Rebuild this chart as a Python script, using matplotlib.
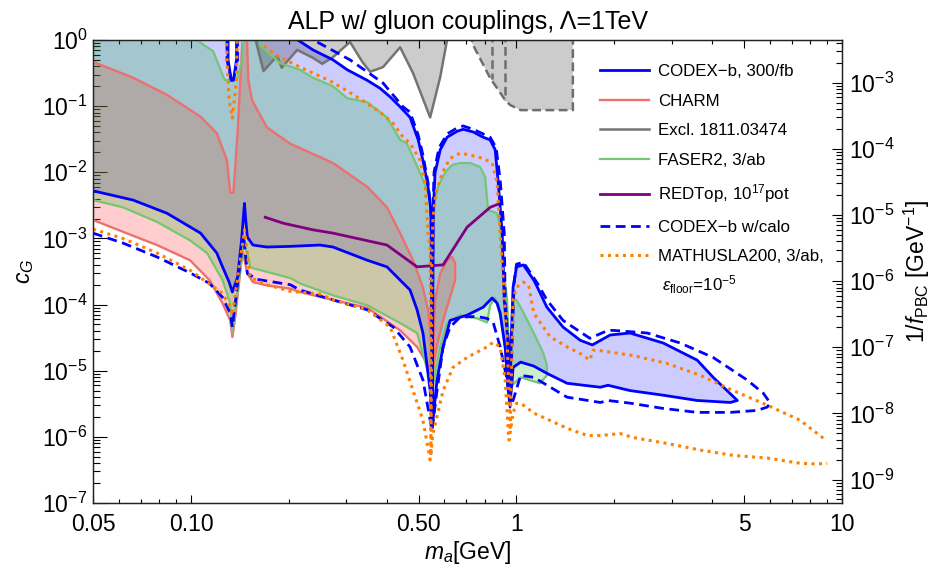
import numpy as np
import matplotlib
matplotlib.use('Agg')
import matplotlib.pyplot as plt
from matplotlib.ticker import FixedLocator, FixedFormatter, LogLocator, NullFormatter, LogFormatterSciNotation

plt.rcParams['font.family'] = ['Liberation Sans', 'DejaVu Sans']
plt.rcParams['mathtext.fontset'] = 'custom'
plt.rcParams['mathtext.rm'] = 'Liberation Sans'
plt.rcParams['mathtext.it'] = 'Liberation Sans:italic'
plt.rcParams['mathtext.bf'] = 'Liberation Sans:bold'

# masses in GeV, couplings given as log10(c_G)
# CODEX-b 300/fb : lower edge left->right, then upper edge right->left
codex_lo_m = [0.05, 0.0664, 0.0844, 0.107, 0.120, 0.125, 0.131, 0.134, 0.139, 0.143, 0.146, 0.147, 0.149, 0.155,
              0.171, 0.202, 0.249, 0.273, 0.348, 0.400, 0.439, 0.471, 0.495, 0.516, 0.543, 0.550, 0.554, 0.570,
              0.595, 0.625, 0.705, 0.790, 0.842, 0.872, 0.891, 0.923, 0.943, 0.956, 0.970, 0.976, 1.03, 1.13,
              1.24, 1.43, 1.81, 1.91, 2.23, 2.82, 3.59, 4.54, 4.77]
codex_lo_L = [-2.28, -2.42, -2.62, -2.92, -3.22, -3.43, -3.66, -3.81, -3.59, -3.03, -2.47, -2.68, -2.98, -3.10,
              -3.13, -3.12, -3.10, -3.13, -3.33, -3.43, -3.63, -3.78, -4.08, -4.43, -5.30, -5.85, -5.75, -5.14,
              -4.64, -4.24, -4.16, -4.04, -3.90, -3.98, -4.13, -4.64, -5.30, -5.49, -5.14, -4.95, -4.87, -4.93,
              -5.04, -5.19, -5.25, -5.22, -5.30, -5.37, -5.45, -5.48, -5.45]
codex_up_m = [4.02, 3.59, 2.82, 2.23, 1.94, 1.71, 1.57, 1.39, 1.24, 1.16, 1.13, 1.05, 1.00, 0.976, 0.963, 0.956,
              0.943, 0.917, 0.904, 0.879, 0.860, 0.830, 0.790, 0.736, 0.686, 0.657, 0.612, 0.583, 0.562, 0.555,
              0.551, 0.548, 0.545, 0.535, 0.516, 0.499, 0.471, 0.439, 0.409, 0.381, 0.348, 0.302, 0.273, 0.237,
              0.213, 0.213, 0.138, 0.138, 0.135, 0.133, 0.130, 0.130, 0.05]
codex_up_L = [-5.10, -4.84, -4.58, -4.43, -4.46, -4.61, -4.54, -4.34, -4.04, -3.74, -3.63, -3.40, -3.43, -3.74,
              -4.54, -5.40, -4.61, -3.93, -2.92, -2.16, -1.66, -1.51, -1.47, -1.39, -1.35, -1.38, -1.47, -1.66,
              -2.01, -2.60, -5.55, -2.90, -2.55, -2.22, -1.82, -1.51, -1.17, -1.01, -0.86, -0.73, -0.61, -0.45,
              -0.30, -0.15, 0.0, 0.5, 0.5, -0.30, -0.61, -0.61, -0.30, 0.5, 0.5]

# CODEX-b with calorimeter
calo_lo_m = [0.05, 0.0618, 0.0786, 0.0993, 0.114, 0.125, 0.132, 0.134, 0.145, 0.149, 0.160, 0.202, 0.216, 0.273,
             0.348, 0.418, 0.471, 0.516, 0.550, 0.570, 0.595, 0.625, 0.671, 0.757, 0.812, 0.848, 0.891, 0.936,
             0.956, 0.976, 1.03, 1.13, 1.43, 1.81, 1.91, 2.23, 2.82, 3.59, 4.54, 5.49, 5.89, 6.02]
calo_lo_L = [-2.92, -3.07, -3.28, -3.52, -3.68, -3.89, -4.13, -4.34, -2.95, -3.53, -3.62, -3.70, -3.78, -3.93,
             -4.08, -4.34, -4.64, -5.14, -5.90, -5.30, -4.64, -4.34, -4.19, -4.18, -4.21, -4.27, -4.64, -5.14,
             -5.55, -5.45, -5.07, -5.10, -5.40, -5.48, -5.45, -5.49, -5.57, -5.63, -5.63, -5.60, -5.55, -5.49]
calo_up_m = [5.73, 5.11, 4.02, 3.18, 2.52, 1.98, 1.91, 1.68, 1.39, 1.24, 1.16, 1.10, 1.05, 1.00, 0.983, 0.970,
             0.956, 0.943, 0.923, 0.917, 0.891, 0.866, 0.830, 0.790, 0.736, 0.686, 0.657, 0.612, 0.578, 0.558,
             0.554, 0.551, 0.546, 0.535, 0.516, 0.499, 0.471, 0.448, 0.389, 0.308, 0.244, 0.237, 0.237, 0.139,
             0.139, 0.135, 0.133, 0.129, 0.129]
calo_up_L = [-5.34, -5.14, -4.80, -4.58, -4.43, -4.39, -4.39, -4.51, -4.24, -3.93, -3.68, -3.51, -3.36, -3.39,
             -3.68, -4.54, -5.45, -4.54, -3.93, -2.92, -2.12, -1.63, -1.47, -1.42, -1.35, -1.30, -1.33, -1.42,
             -1.63, -2.00, -2.57, -5.75, -2.57, -2.16, -1.74, -1.44, -1.09, -1.01, -0.65, -0.30, -0.03, 0.0,
             0.5, 0.5, -0.30, -0.61, -0.61, -0.30, 0.5]

# MATHUSLA200 (two open branches)
math_lo_m = [0.05, 0.0618, 0.0786, 0.0993, 0.125, 0.131, 0.134, 0.136, 0.146, 0.152, 0.171, 0.202, 0.249, 0.273,
             0.348, 0.409, 0.448, 0.481, 0.516, 0.543, 0.554, 0.595, 0.638, 0.705, 0.812, 0.848, 0.891, 0.923,
             0.943, 0.949, 0.976, 1.00, 1.05, 1.13, 1.43, 1.65, 1.81, 2.08, 2.28, 2.90, 3.67, 4.63, 5.89, 7.44,
             8.39, 9.01]
math_lo_L = [-2.86, -3.00, -3.22, -3.48, -3.83, -4.01, -4.16, -3.93, -2.87, -3.59, -3.70, -3.80, -3.84, -3.93,
             -4.08, -4.34, -4.84, -5.30, -5.75, -6.35, -5.95, -5.30, -4.95, -4.80, -4.64, -4.57, -4.64, -5.14,
             -5.90, -6.05, -5.64, -5.49, -5.52, -5.64, -5.87, -5.98, -5.98, -5.95, -6.01, -6.10, -6.20, -6.28,
             -6.32, -6.40, -6.41, -6.40]
math_up_m = [8.76, 7.44, 5.89, 4.63, 3.67, 2.90, 2.28, 1.77, 1.72, 1.68, 1.57, 1.43, 1.27, 1.13, 1.09, 1.05, 1.00,
             0.976, 0.970, 0.956, 0.936, 0.891, 0.872, 0.842, 0.790, 0.721, 0.671, 0.625, 0.591, 0.566, 0.554,
             0.550, 0.546, 0.543, 0.535, 0.524, 0.506, 0.471, 0.448, 0.418, 0.381, 0.338, 0.302, 0.268, 0.237,
             0.212, 0.184, 0.167, 0.161, 0.139, 0.138, 0.134, 0.131, 0.129, 0.128]
math_up_L = [-6.02, -5.75, -5.52, -5.30, -5.07, -4.89, -4.77, -4.69, -4.69, -4.84, -4.74, -4.64, -4.49, -4.13,
             -3.71, -3.66, -3.74, -3.93, -4.54, -5.90, -4.54, -2.92, -2.16, -1.86, -1.79, -1.74, -1.71, -1.79,
             -2.01, -2.31, -2.68, -3.18, -6.28, -3.18, -2.92, -2.16, -1.82, -1.56, -1.47, -1.26, -1.09, -0.92,
             -0.77, -0.62, -0.50, -0.39, -0.24, -0.08, 0.5, 0.5, -0.61, -1.18, -0.91, -0.30, 0.5]

# FASER2 3/ab
faser_lo_m = [0.05, 0.0618, 0.0786, 0.0993, 0.112, 0.125, 0.132, 0.134, 0.145, 0.149, 0.152, 0.155, 0.202, 0.216,
              0.273, 0.348, 0.439, 0.495, 0.543, 0.550, 0.583, 0.612, 0.671, 0.757, 0.812, 0.830, 0.860, 0.891,
              0.923, 0.943, 0.956, 0.970, 1.03, 1.18, 1.24]
faser_lo_L = [-2.42, -2.53, -2.75, -3.03, -3.22, -3.63, -3.98, -4.43, -3.10, -3.22, -3.43, -3.45, -3.60, -3.68,
              -3.86, -4.01, -4.28, -4.43, -5.14, -5.30, -4.64, -4.28, -4.16, -4.21, -4.27, -4.01, -3.90, -4.16,
              -4.69, -5.30, -5.42, -5.22, -5.10, -5.19, -5.07]
faser_up_m = [1.24, 1.21, 1.13, 1.03, 1.00, 0.983, 0.956, 0.936, 0.910, 0.891, 0.872, 0.818, 0.801, 0.773, 0.721,
              0.671, 0.634, 0.604, 0.574, 0.562, 0.554, 0.550, 0.546, 0.543, 0.531, 0.506, 0.481, 0.460, 0.439,
              0.400, 0.348, 0.302, 0.273, 0.237, 0.216, 0.188, 0.163, 0.161, 0.145, 0.144, 0.139, 0.127, 0.117,
              0.104, 0.104, 0.05]
faser_up_L = [-4.92, -4.74, -4.43, -4.04, -3.93, -3.93, -5.28, -3.93, -3.43, -2.83, -2.62, -2.57, -2.07, -1.92,
              -1.86, -1.86, -1.89, -2.00, -2.22, -2.42, -2.83, -5.22, -2.83, -2.42, -2.27, -2.01, -1.77, -1.56,
              -1.51, -1.17, -0.94, -0.88, -0.70, -0.57, -0.45, -0.35, -0.08, 0.5, 0.5, -0.27, -0.57, -0.61,
              -0.17, 0.0, 0.5, 0.5]

# CHARM
charm_lo_m = [0.05, 0.0618, 0.0786, 0.0993, 0.114, 0.125, 0.132, 0.134, 0.137, 0.144, 0.149, 0.155, 0.171, 0.202,
              0.216, 0.273, 0.348, 0.439, 0.495, 0.535, 0.550]
charm_lo_L = [-2.72, -2.90, -3.10, -3.33, -3.63, -3.98, -4.24, -4.49, -4.16, -3.18, -3.53, -3.66, -3.71, -3.76,
              -3.81, -3.93, -4.05, -4.39, -4.64, -4.92, -4.96]
charm_up_m = [0.546, 0.535, 0.516, 0.481, 0.439, 0.400, 0.348, 0.273, 0.249, 0.202, 0.171, 0.154, 0.150, 0.148,
              0.145, 0.139, 0.135, 0.132, 0.129, 0.120, 0.107, 0.0844, 0.0664, 0.05]
charm_up_L = [-4.54, -4.08, -3.74, -3.33, -2.92, -2.53, -2.22, -1.86, -1.77, -1.57, -1.32, -0.91, -0.61, 0.3,
              0.3, -1.41, -2.31, -2.31, -1.82, -1.41, -1.16, -0.83, -0.57, -0.33]
charm_lobe_m = [0.554, 0.562, 0.583, 0.612, 0.634, 0.648, 0.648, 0.595, 0.570, 0.554]
charm_lobe_L = [-4.96, -3.93, -3.53, -3.33, -3.28, -3.37, -3.63, -4.24, -4.61, -4.96]

# Excluded, arXiv:1811.03474 (solid) and the dashed regions
excl_m = [0.158, 0.167, 0.184, 0.190, 0.212, 0.237, 0.253, 0.273, 0.308, 0.336, 0.355, 0.389, 0.439, 0.481,
          0.543, 0.583, 0.612]
excl_L = [0.0, -0.47, -0.24, -0.42, -0.15, -0.27, -0.36, -0.26, -0.03, -0.33, -0.48, -0.41, -0.11, -0.50,
          -1.17, -0.56, 0.0]
excl2_m = [0.730, 0.730, 0.830, 0.923, 0.956, 1.03, 1.49, 1.49]
excl2_L = [0.3, -0.045, -0.575, -0.908, -0.983, -1.06, -1.06, 0.3]
excl2_inner_m = [0.842, 0.923]
excl2_inner_L = [-0.59, -0.91]

# REDTop 10^17 pot
red_m = [0.169, 0.192, 0.237, 0.273, 0.400, 0.495, 0.595, 0.705, 0.830, 0.891]
red_L = [-2.68, -2.77, -2.87, -2.92, -3.10, -3.43, -3.40, -2.83, -2.53, -2.47]

x_major = [0.05, 0.1, 0.5, 1, 5, 10]
x_labels = ['0.05', '0.10', '0.50', '1', '5', '10']
x_minor = [0.06, 0.07, 0.08, 0.09, 0.2, 0.3, 0.4, 0.6, 0.7, 0.8, 0.9, 2, 3, 4, 6, 7, 8, 9]

CEIL = 0.3           # log10 c_G above the frame, closes regions running off the top
K_PBC = 10 ** -2.355  # c_G -> 1/f_PBC [GeV^-1]
DOT = (0, (1.0, 1.45))
DASH = (0, (3.5, 2.0))


def cg(L):
    return 10.0 ** np.asarray(L, dtype=float)


fig = plt.figure(figsize=(9.38, 5.75), dpi=100)
ax = fig.add_axes([93 / 938, 72 / 575, 749 / 938, 463 / 575])
ax.set_xscale('log')
ax.set_yscale('log')

# filled regions
ax.fill(codex_lo_m + codex_up_m, cg(codex_lo_L + codex_up_L), color=(0, 0, 1), alpha=0.2, lw=0, zorder=1)
ax.fill(charm_lo_m + charm_up_m, cg(charm_lo_L + charm_up_L), color=(1, 0.3, 0.3), alpha=0.28, lw=0, zorder=2)
ax.fill(charm_lobe_m, cg(charm_lobe_L), color=(1, 0.3, 0.3), alpha=0.28, lw=0, zorder=2)
ax.fill(faser_lo_m + faser_up_m, cg(faser_lo_L + faser_up_L), color=(0.09, 0.71, 0.14), alpha=0.22, lw=0, zorder=3)
ax.fill([excl_m[0]] + excl_m + [excl_m[-1]], cg([CEIL] + excl_L + [CEIL]), color='k', alpha=0.2, lw=0, zorder=4)
ax.fill(excl2_m, cg(excl2_L), color='k', alpha=0.2, lw=0, zorder=4)

# outlines, in legend order
ax.plot(codex_lo_m + codex_up_m, cg(codex_lo_L + codex_up_L), color='#0000ff', lw=2.0, zorder=8,
        label='CODEX\u2212b, 300/fb')
ax.plot(charm_lo_m + charm_up_m, cg(charm_lo_L + charm_up_L), color='#ec7070', lw=1.7, zorder=6, label='CHARM')
ax.plot([excl_m[0]] + excl_m + [excl_m[-1]], cg([CEIL] + excl_L + [CEIL]), color='#747474', lw=1.8, zorder=6,
        label='Excl. 1811.03474')
ax.plot(faser_lo_m + faser_up_m, cg(faser_lo_L + faser_up_L), color='#72c872', lw=1.6, zorder=6,
        label='FASER2, 3/ab')
ax.plot(red_m, cg(red_L), color='#800080', lw=2.0, zorder=7, label='REDTop, 10$^{17}$pot')
ax.plot(calo_lo_m + calo_up_m, cg(calo_lo_L + calo_up_L), color='#0000ff', lw=2.0, ls=DASH, zorder=8,
        label='CODEX\u2212b w/calo')
ax.plot(math_lo_m, cg(math_lo_L), color='#ff8000', lw=2.2, ls=DOT, zorder=9, label='MATHUSLA200, 3/ab,')
ax.plot(math_up_m, cg(math_up_L), color='#ff8000', lw=2.2, ls=DOT, zorder=9)
ax.plot(charm_lobe_m, cg(charm_lobe_L), color='#ec7070', lw=1.7, zorder=6)
ax.plot(excl2_m, cg(excl2_L), color='#6e6e6e', lw=1.8, ls=(0, (3.5, 1.8)), zorder=6)
for xm, yl in zip(excl2_inner_m, excl2_inner_L):
    ax.plot([xm, xm], cg([CEIL, yl]), color='#6e6e6e', lw=1.8, ls=(0, (3.5, 1.8)), zorder=6)

ax.set_xlim(0.05, 10)
ax.set_ylim(1e-7, 1)

ax.xaxis.set_major_locator(FixedLocator(x_major))
ax.xaxis.set_major_formatter(FixedFormatter(x_labels))
ax.xaxis.set_minor_locator(FixedLocator(x_minor))
ax.xaxis.set_minor_formatter(NullFormatter())
ax.yaxis.set_major_locator(LogLocator(base=10, numticks=20))
ax.yaxis.set_major_formatter(LogFormatterSciNotation())
ax.yaxis.set_minor_locator(LogLocator(base=10, subs=np.arange(2, 10), numticks=20))
ax.yaxis.set_minor_formatter(NullFormatter())

ax.tick_params(axis='x', which='both', direction='in', top=True, bottom=True)
ax.tick_params(axis='x', which='major', length=6, width=0.8, labelsize=16.5, pad=7)
ax.tick_params(axis='x', which='minor', length=3, width=0.8)
ax.tick_params(axis='y', which='both', direction='in', left=True, right=False)
ax.tick_params(axis='y', which='major', length=10, width=0.8, labelsize=16.5, pad=4)
ax.tick_params(axis='y', which='minor', length=5, width=0.8)

ax2 = ax.twinx()
ax2.set_yscale('log')
ax2.set_ylim(1e-7 * K_PBC, 1 * K_PBC)
ax2.yaxis.set_major_locator(LogLocator(base=10, numticks=20))
ax2.yaxis.set_major_formatter(LogFormatterSciNotation())
ax2.yaxis.set_minor_locator(LogLocator(base=10, subs=np.arange(2, 10), numticks=20))
ax2.yaxis.set_minor_formatter(NullFormatter())
ax2.tick_params(axis='y', which='both', direction='in')
ax2.tick_params(axis='y', which='major', length=7, width=0.8, labelsize=16.5, pad=5)
ax2.tick_params(axis='y', which='minor', length=4, width=0.8)

for a in (ax, ax2):
    for s in a.spines.values():
        s.set_linewidth(0.9)
        s.set_color('#222222')
    a.xaxis.offsetText.set_visible(False)
    a.yaxis.offsetText.set_visible(False)

ax.set_title('ALP w/ gluon couplings, \u039b=1TeV', fontsize=18, pad=8)
ax.set_xlabel('$m_a$[GeV]', fontsize=16.5, labelpad=2)
ax.set_ylabel('$c_G$', fontsize=16.5, labelpad=4)
ax2.set_ylabel('1/$f_{\\rm PBC}$ [GeV$^{-1}$]', fontsize=16.5, labelpad=5)

ax.legend(loc='upper left', bbox_to_anchor=((600 - 93) / 749, (503 - 64) / 463), frameon=False, fontsize=12.2,
          handlelength=2.9, handletextpad=0.55, labelspacing=0.86, borderaxespad=0, borderpad=0)
ax.text((662 - 93) / 749, (503 - 285) / 463, '$\\epsilon_{\\rm floor}$=10$^{-5}$', transform=ax.transAxes,
        fontsize=12.2, ha='left', va='center', zorder=20)

fig.savefig('out.png', dpi=100)
